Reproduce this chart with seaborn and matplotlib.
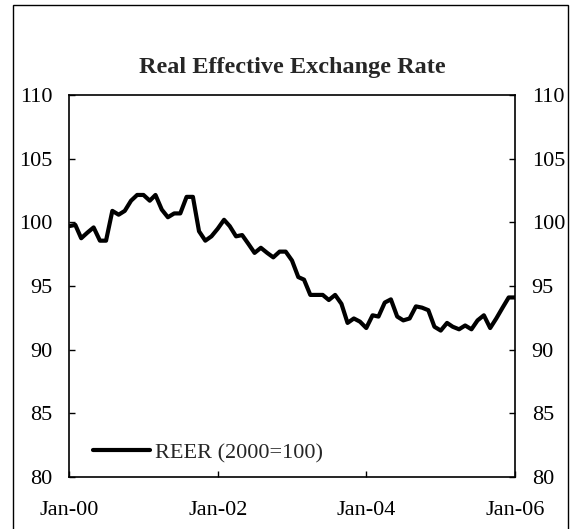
import matplotlib
matplotlib.use("Agg")
import matplotlib.pyplot as plt
from matplotlib.patches import Rectangle
import seaborn as sns
import pandas as pd

title = "Real Effective Exchange Rate"
series_name = "REER (2000=100)"
start_month = "2000-01-01"
reer = [
    99.7, 99.8, 98.75, 99.2, 99.6, 98.56, 98.56, 100.9, 100.6, 100.9, 101.7, 102.15,
    102.15, 101.7, 102.15, 101.0, 100.4, 100.7, 100.7, 102.0, 102.0, 99.3, 98.56, 98.9,
    99.5, 100.2, 99.7, 98.9, 99.0, 98.3, 97.6, 98.0, 97.6, 97.25, 97.7, 97.7,
    97.0, 95.7, 95.5, 94.3, 94.3, 94.3, 93.9, 94.3, 93.6, 92.1, 92.45, 92.2,
    91.7, 92.7, 92.6, 93.7, 93.95, 92.6, 92.3, 92.45, 93.4, 93.3, 93.1, 91.8,
    91.5, 92.1, 91.8, 91.6, 91.9, 91.6, 92.3, 92.7, 91.7, 92.45, 93.3, 94.1,
    94.1,
]
x_tick_dates = ["2000-01-01", "2002-01-01", "2004-01-01", "2006-01-01"]
x_tick_labels = ["Jan-00", "Jan-02", "Jan-04", "Jan-06"]
y_ticks = [80, 85, 90, 95, 100, 105, 110]

dates = pd.date_range(start_month, periods=len(reer), freq="MS")
df = pd.DataFrame({"date": dates, "value": reer})

sns.set_style("white")
plt.rcParams["font.family"] = ["Liberation Serif", "DejaVu Serif"]

fig = plt.figure(figsize=(5.70, 5.29), dpi=100)
ax = fig.add_axes([69 / 570, 1 - 477 / 529, (515 - 69) / 570, (477 - 95) / 529])

sns.lineplot(data=df, x="date", y="value", ax=ax, color="black", linewidth=3.0,
             label=series_name)

ax.set_xlim(dates[0], dates[-1])
ax.set_ylim(80, 110)
ax.set_yticks(y_ticks)
ax.set_yticklabels([str(v) for v in y_ticks])
ax.set_xticks(pd.to_datetime(x_tick_dates))
ax.set_xticklabels(x_tick_labels)
ax.set_xlabel("")
ax.set_ylabel("")

for s in ax.spines.values():
    s.set_visible(True)
    s.set_color("black")
    s.set_linewidth(1.2)

ax.tick_params(axis="y", which="both", direction="in", length=4.5, width=1,
               left=True, right=True, labelleft=True, labelright=True,
               labelsize=16, colors="black", pad=12)
ax.tick_params(axis="x", direction="in", length=4.5, width=1, bottom=True,
               labelsize=16, pad=17.5, colors="black")

ax.set_title(title, fontsize=17.5, fontweight="bold", pad=15.5)

ax.legend(loc="center left", bbox_to_anchor=((93 - 69) / 446, (477 - 453) / 382),
          frameon=False, fontsize=16, handlelength=2.57, handletextpad=0.22,
          borderpad=0, borderaxespad=0)

fig.patches.append(Rectangle((12.7 / 570, -0.05), (568 - 12.7) / 570, 1.05 - 5 / 529,
                             transform=fig.transFigure, fill=False,
                             edgecolor="black", linewidth=1.0))

fig.savefig("out.png", dpi=100, facecolor="white")
